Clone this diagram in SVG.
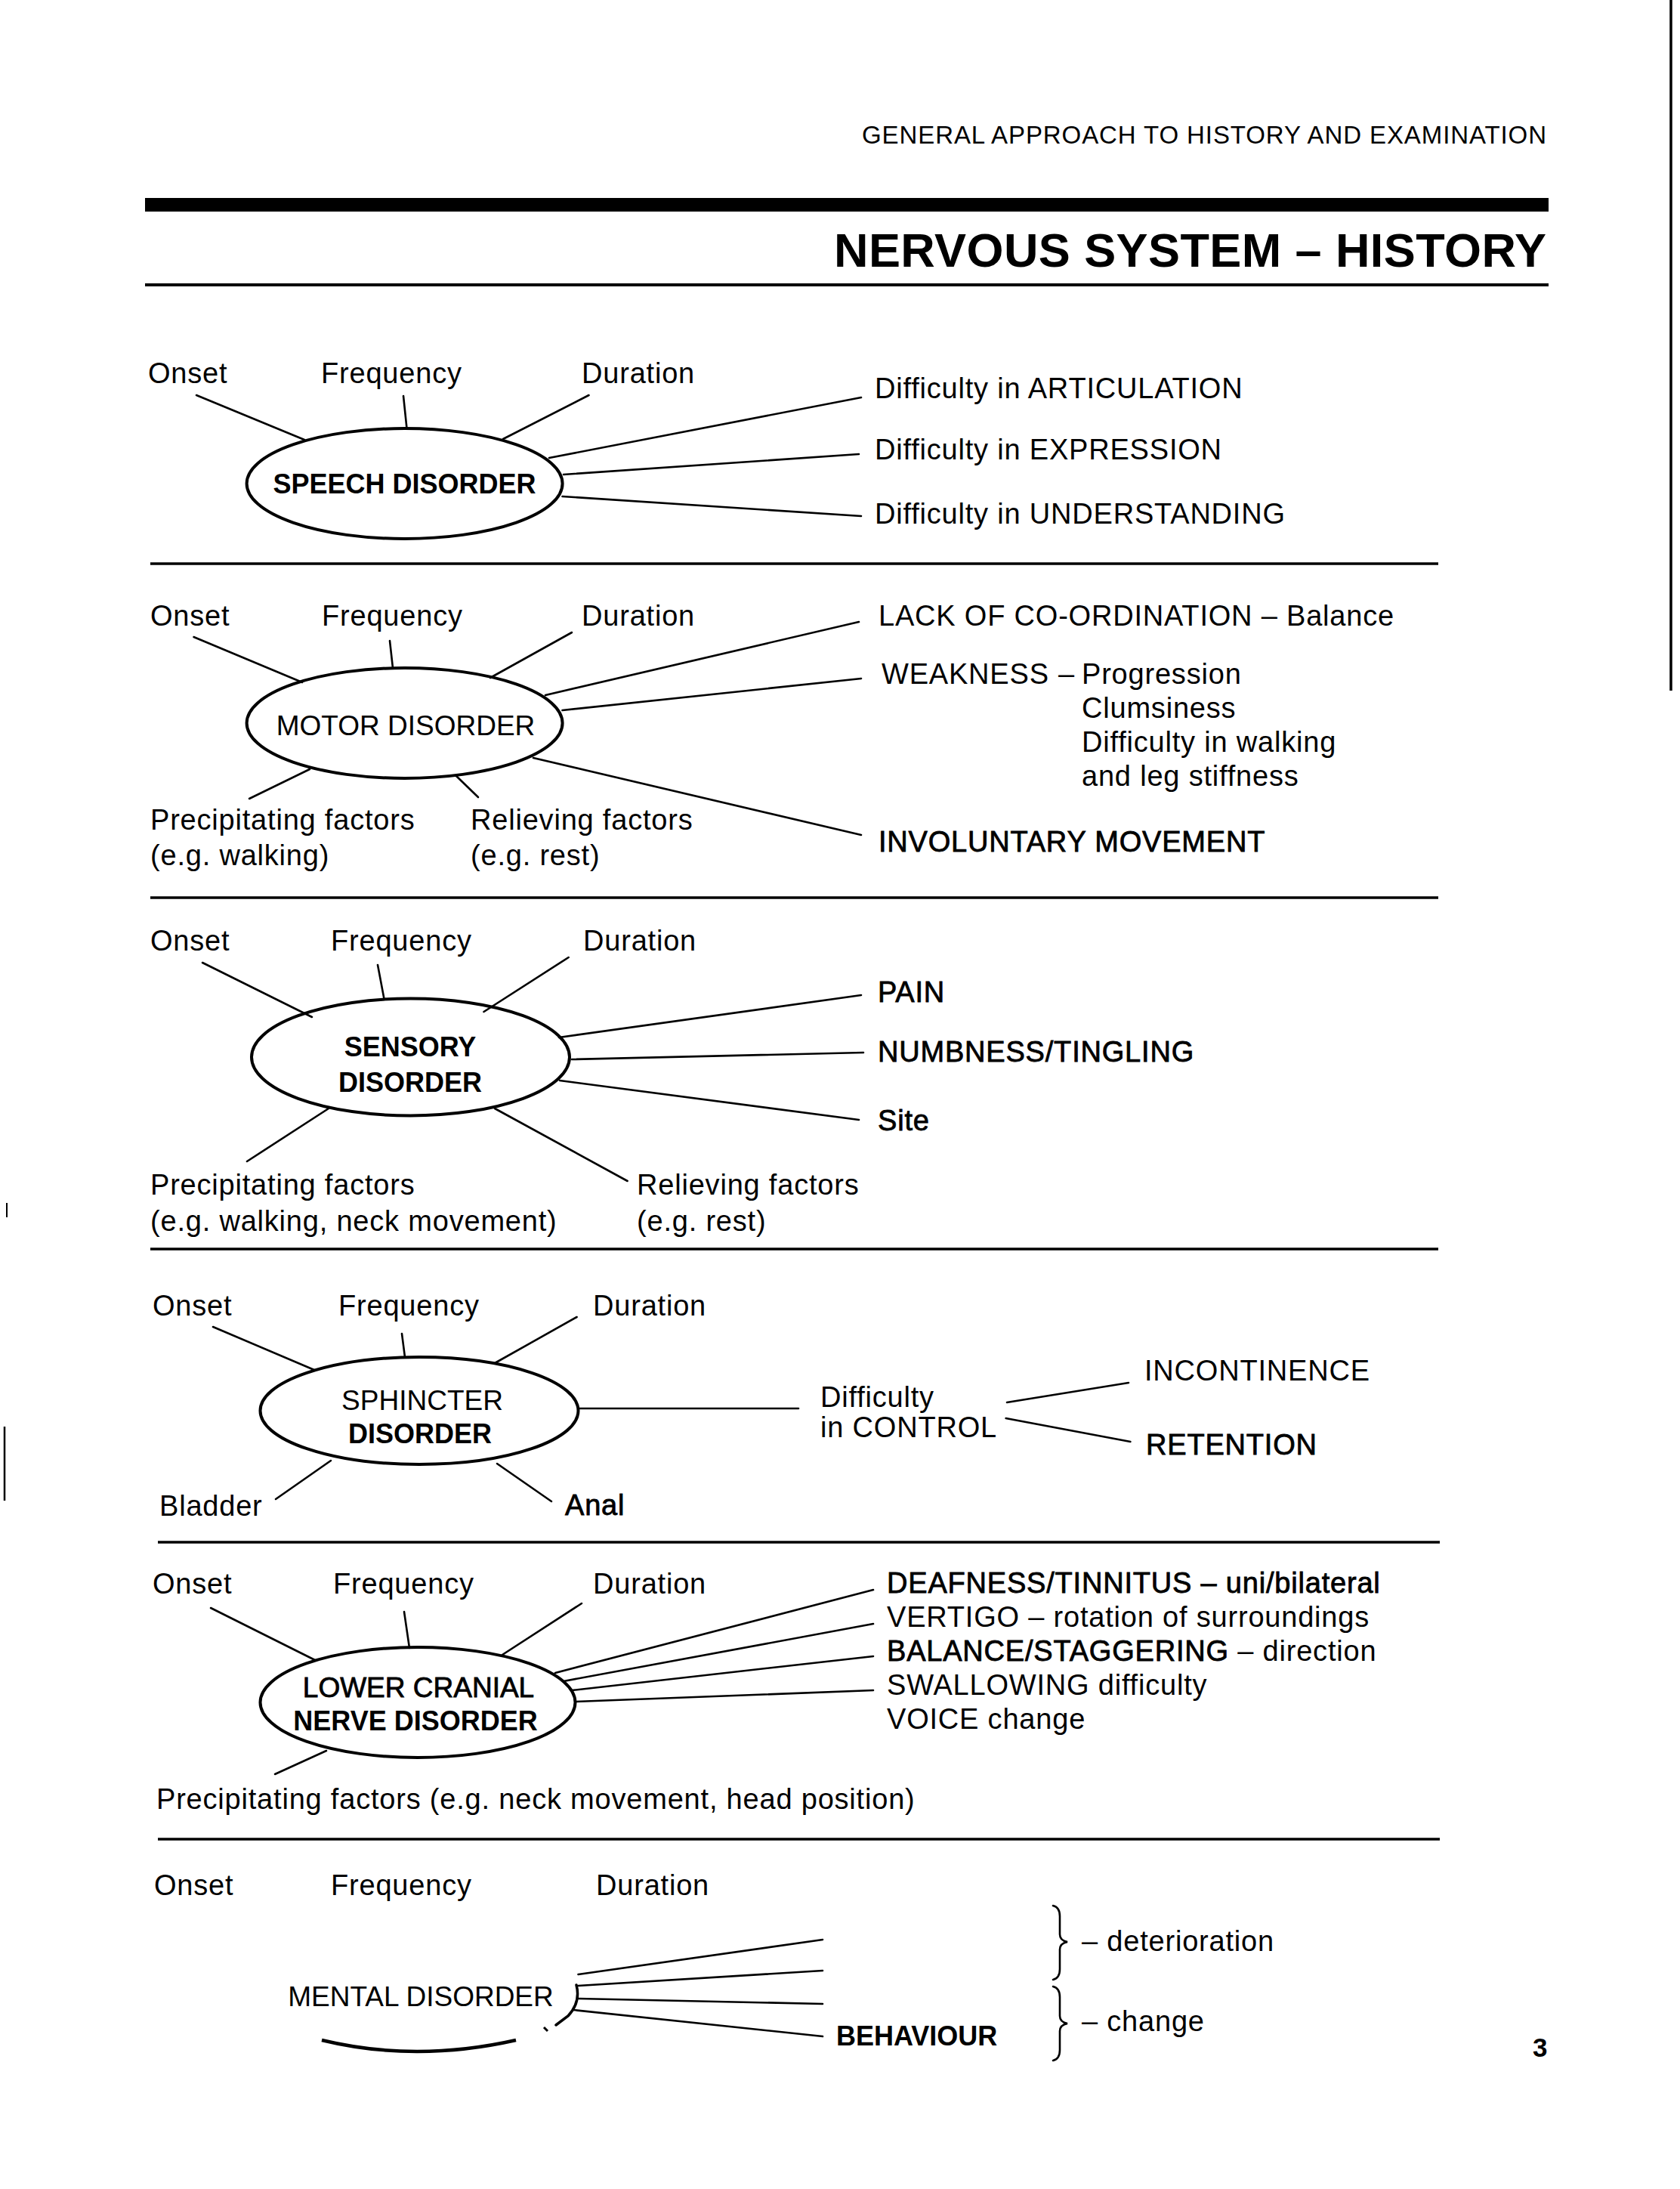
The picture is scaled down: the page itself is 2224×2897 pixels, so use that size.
<svg xmlns="http://www.w3.org/2000/svg" width="2224" height="2897" viewBox="0 0 2224 2897">
<style>
text{font-family:"Liberation Sans",Arial,Helvetica,sans-serif;fill:#000}
.t{font-size:38px;letter-spacing:0.8px}
.n{font-size:37px;text-anchor:middle}
.b{font-weight:bold;font-size:36px}
.med{stroke:#000;stroke-width:0.8px}
#connectors line,#connectors path{stroke:#000;stroke-width:2.6;stroke-linecap:round;fill:none}
.node ellipse{fill:none;stroke:#000;stroke-width:4}
.rule{stroke:#000}
</style>
<rect width="2224" height="2897" fill="#fff"/>

<!-- page furniture -->
<g id="page">
<text x="1141" y="190" font-size="33" textLength="906" lengthAdjust="spacing">GENERAL APPROACH TO HISTORY AND EXAMINATION</text>
<rect x="192" y="262" width="1858" height="18" fill="#000"/>
<text x="1104" y="353" font-size="63" font-weight="bold" textLength="943" lengthAdjust="spacing">NERVOUS SYSTEM – HISTORY</text>
<line class="rule" x1="192" y1="377" x2="2050" y2="377" stroke-width="4"/>
<line class="rule" x1="199" y1="746" x2="1904" y2="746" stroke-width="3.5"/>
<line class="rule" x1="199" y1="1188" x2="1904" y2="1188" stroke-width="3.5"/>
<line class="rule" x1="199" y1="1653" x2="1904" y2="1653" stroke-width="3.5"/>
<line class="rule" x1="209" y1="2041" x2="1906" y2="2041" stroke-width="3.5"/>
<line class="rule" x1="209" y1="2434" x2="1906" y2="2434" stroke-width="3.5"/>
<line class="rule" x1="2212" y1="0" x2="2212" y2="914" stroke-width="3.5"/>
<line class="rule" x1="9" y1="1592" x2="9" y2="1611" stroke-width="2"/>
<line class="rule" x1="6" y1="1888" x2="6" y2="1986" stroke-width="2.5"/>
<text x="2029" y="2722" font-size="35" font-weight="bold">3</text>
</g>

<!-- connectors -->
<g id="connectors">
<!-- speech -->
<line x1="260" y1="523" x2="403" y2="582"/>
<line x1="534" y1="524" x2="538.5" y2="567"/>
<line x1="779.5" y1="523" x2="666" y2="581"/>
<line x1="727" y1="606" x2="1140" y2="526"/>
<line x1="746" y1="628" x2="1137" y2="601"/>
<line x1="744.5" y1="657" x2="1140" y2="683"/>
<!-- motor -->
<line x1="256.5" y1="843" x2="400" y2="903"/>
<line x1="516" y1="848" x2="520" y2="884"/>
<line x1="757" y1="837" x2="649" y2="897"/>
<line x1="410" y1="1018" x2="330" y2="1057"/>
<line x1="604" y1="1027" x2="633" y2="1055"/>
<line x1="722" y1="920" x2="1137" y2="823"/>
<line x1="744.5" y1="940" x2="1140" y2="898"/>
<line x1="706" y1="1003" x2="1140" y2="1105"/>
<!-- sensory -->
<line x1="268" y1="1274" x2="413" y2="1346"/>
<line x1="500" y1="1277" x2="508.5" y2="1322"/>
<line x1="752.7" y1="1267" x2="640.5" y2="1339"/>
<line x1="435" y1="1467" x2="327" y2="1537"/>
<line x1="655" y1="1467" x2="830.6" y2="1563"/>
<line x1="740" y1="1373" x2="1140" y2="1317"/>
<line x1="757" y1="1402" x2="1143" y2="1393"/>
<line x1="741" y1="1430" x2="1137" y2="1482"/>
<!-- sphincter -->
<line x1="282" y1="1756" x2="416" y2="1813"/>
<line x1="532" y1="1765" x2="536" y2="1796"/>
<line x1="763.6" y1="1743" x2="655" y2="1804"/>
<line x1="765.5" y1="1864" x2="1057" y2="1864"/>
<line x1="438" y1="1933" x2="365" y2="1984"/>
<line x1="658" y1="1937" x2="730" y2="1987"/>
<line x1="1333" y1="1856" x2="1494" y2="1830"/>
<line x1="1331.6" y1="1877" x2="1496.4" y2="1908"/>
<!-- lower cranial -->
<line x1="279" y1="2128" x2="417" y2="2197"/>
<line x1="535" y1="2133" x2="542" y2="2181"/>
<line x1="770" y1="2122" x2="665" y2="2190"/>
<line x1="432" y1="2317" x2="364" y2="2348"/>
<line x1="735" y1="2214" x2="1156" y2="2104"/>
<line x1="746" y1="2225" x2="1156" y2="2149"/>
<line x1="757" y1="2237" x2="1156" y2="2192"/>
<line x1="762" y1="2252" x2="1156" y2="2237"/>
<!-- mental -->
<line x1="765.5" y1="2613" x2="1089" y2="2567"/>
<line x1="765.5" y1="2628" x2="1089" y2="2608"/>
<line x1="765.5" y1="2645" x2="1089" y2="2652"/>
<line x1="759" y1="2660" x2="1089" y2="2695"/>
<path d="M1394 2522 Q1403 2524 1403 2536 L1403 2560 Q1403 2568 1413 2570 Q1403 2572 1403 2580 L1403 2606 Q1403 2618 1394 2620" stroke-width="2.4"/>
<path d="M1394 2629 Q1403 2631 1403 2643 L1403 2668 Q1403 2676 1413 2678 Q1403 2680 1403 2688 L1403 2713 Q1403 2725 1394 2727" stroke-width="2.4"/>
</g>

<!-- nodes -->
<g id="speech" class="node">
<ellipse cx="535.6" cy="640" rx="209" ry="73"/>
<text class="n b" x="535.6" y="653">SPEECH DISORDER</text>
</g>
<g id="speech-labels">
<text class="t" x="196" y="507">Onset</text>
<text class="t" x="425" y="507">Frequency</text>
<text class="t" x="770" y="507">Duration</text>
<text class="t" x="1158" y="527">Difficulty in ARTICULATION</text>
<text class="t" x="1158" y="608">Difficulty in EXPRESSION</text>
<text class="t" x="1158" y="693">Difficulty in UNDERSTANDING</text>
</g>

<g id="motor" class="node">
<ellipse cx="535.6" cy="957" rx="209" ry="73"/>
<text class="n" x="537" y="973">MOTOR DISORDER</text>
</g>
<g id="motor-labels">
<text class="t" x="199" y="828">Onset</text>
<text class="t" x="426" y="828">Frequency</text>
<text class="t" x="770" y="828">Duration</text>
<text class="t" x="199" y="1098">Precipitating factors</text>
<text class="t" x="199" y="1145">(e.g. walking)</text>
<text class="t" x="623" y="1098">Relieving factors</text>
<text class="t" x="623" y="1145">(e.g. rest)</text>
<text class="t" x="1163" y="828">LACK OF CO-ORDINATION – Balance</text>
<text class="t" x="1167" y="905" letter-spacing="0">WEAKNESS</text>
<text class="t" x="1401" y="905">–</text>
<text class="t" x="1432" y="905">Progression</text>
<text class="t" x="1432" y="950">Clumsiness</text>
<text class="t" x="1432" y="995">Difficulty in walking</text>
<text class="t" x="1432" y="1040">and leg stiffness</text>
<text class="t med" x="1163" y="1127">INVOLUNTARY MOVEMENT</text>
</g>

<g id="sensory" class="node">
<ellipse cx="543.5" cy="1399" rx="210.5" ry="77.5"/>
<text class="n b" x="543" y="1398">SENSORY</text>
<text class="n b" x="543" y="1445">DISORDER</text>
</g>
<g id="sensory-labels">
<text class="t" x="199" y="1258">Onset</text>
<text class="t" x="438" y="1258">Frequency</text>
<text class="t" x="772" y="1258">Duration</text>
<text class="t" x="199" y="1581">Precipitating factors</text>
<text class="t" x="199" y="1629">(e.g. walking, neck movement)</text>
<text class="t" x="843" y="1581">Relieving factors</text>
<text class="t" x="843" y="1629">(e.g. rest)</text>
<text class="t med" x="1162" y="1326">PAIN</text>
<text class="t med" x="1162" y="1405">NUMBNESS/TINGLING</text>
<text class="t med" x="1162" y="1496">Site</text>
</g>

<g id="sphincter" class="node">
<ellipse cx="555" cy="1867" rx="210.5" ry="71"/>
<text class="n" x="559" y="1866">SPHINCTER</text>
<text class="n b" x="556" y="1910">DISORDER</text>
</g>
<g id="sphincter-labels">
<text class="t" x="202" y="1741">Onset</text>
<text class="t" x="448" y="1741">Frequency</text>
<text class="t" x="785" y="1741">Duration</text>
<text class="t" x="211" y="2006">Bladder</text>
<text class="t med" x="748" y="2005">Anal</text>
<text class="t" x="1086" y="1862" font-size="36">Difficulty</text>
<text class="t" x="1086" y="1902" font-size="36">in CONTROL</text>
<text class="t" x="1515" y="1827">INCONTINENCE</text>
<text class="t med" x="1517" y="1925">RETENTION</text>
</g>

<g id="cranial" class="node">
<ellipse cx="553" cy="2253" rx="208.5" ry="73"/>
<text class="n med" x="554" y="2246" font-size="36">LOWER CRANIAL</text>
<text class="n b" x="550" y="2290">NERVE DISORDER</text>
</g>
<g id="cranial-labels">
<text class="t" x="202" y="2109">Onset</text>
<text class="t" x="441" y="2109">Frequency</text>
<text class="t" x="785" y="2109">Duration</text>
<text class="t" x="207" y="2394">Precipitating factors (e.g. neck movement, head position)</text>
<text class="t med" x="1174" y="2108">DEAFNESS/TINNITUS – uni/bilateral</text>
<text class="t" x="1174" y="2153">VERTIGO – rotation of surroundings</text>
<text class="t" x="1174" y="2198"><tspan class="med">BALANCE/STAGGERING</tspan> – direction</text>
<text class="t" x="1174" y="2243">SWALLOWING difficulty</text>
<text class="t" x="1174" y="2288">VOICE change</text>
</g>

<g id="mental" class="node">
<path d="M763 2627 Q769 2650 752 2668 L736 2680" fill="none" stroke="#000" stroke-width="3.5" stroke-linecap="round"/>
<line x1="720" y1="2683" x2="725" y2="2688" stroke="#000" stroke-width="3"/>
<path d="M426 2700 Q550 2730 683 2700" fill="none" stroke="#000" stroke-width="4.5"/>
<text class="n" x="557" y="2655">MENTAL DISORDER</text>
</g>
<g id="mental-labels">
<text class="t" x="204" y="2508">Onset</text>
<text class="t" x="438" y="2508">Frequency</text>
<text class="t" x="789" y="2508">Duration</text>
<text class="b" x="1107" y="2707">BEHAVIOUR</text>
<text class="t" x="1432" y="2582">– deterioration</text>
<text class="t" x="1432" y="2688">– change</text>
</g>
</svg>
